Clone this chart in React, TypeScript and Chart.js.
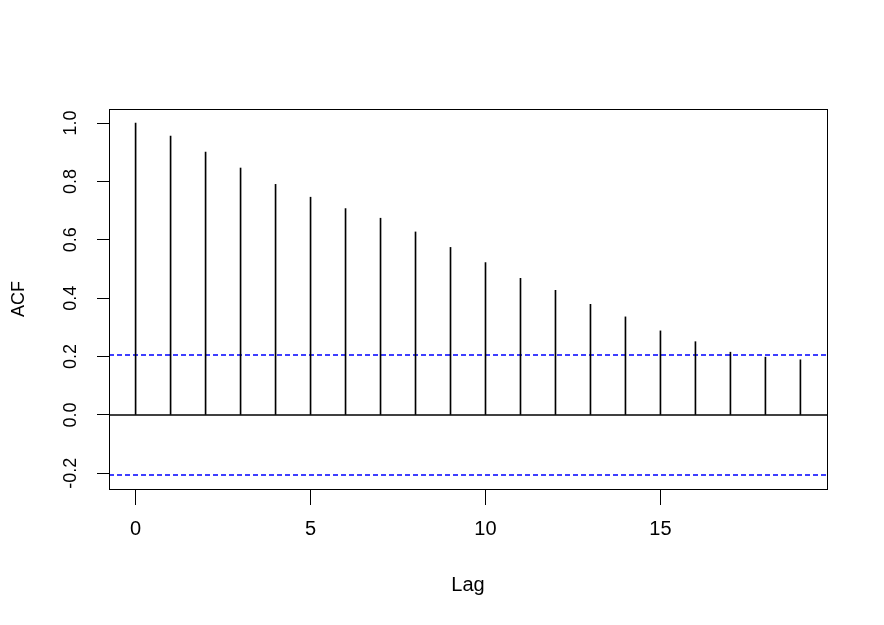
import React, { useEffect, useRef } from "react";
import { Chart, registerables } from "chart.js";

Chart.register(...registerables);

const lags = [0, 1, 2, 3, 4, 5, 6, 7, 8, 9, 10, 11, 12, 13, 14, 15, 16, 17, 18, 19];
const acfValues = [1.0, 0.955, 0.901, 0.846, 0.79, 0.746, 0.707, 0.674, 0.627, 0.574, 0.522, 0.468, 0.427, 0.379, 0.336, 0.288, 0.251, 0.215, 0.198, 0.189];
const confLimit = 0.2055;
const xRange = [-0.76, 19.76];
const yRange = [-0.2537, 1.0482];
const xTickStep = 5;
const yTickStep = 0.2;
const xTitle = "Lag";
const yTitle = "ACF";

const boxPlugin = {
  id: "rbox",
  afterDatasetsDraw(chart: any) {
    const { ctx, chartArea } = chart;
    ctx.save();
    ctx.strokeStyle = "#000";
    ctx.lineWidth = 1;
    ctx.strokeRect(
      Math.round(chartArea.left) + 0.5,
      Math.round(chartArea.top) + 0.5,
      Math.round(chartArea.right - chartArea.left),
      Math.round(chartArea.bottom - chartArea.top)
    );
    ctx.restore();
  },
};

export default function App() {
  const ref = useRef<HTMLCanvasElement | null>(null);

  useEffect(() => {
    document.body.style.margin = "0";
    const canvas = ref.current;
    if (!canvas) return;

    const bars = lags.map((l, i) => ({ x: l, y: acfValues[i] }));
    const upper = xRange.map((x) => ({ x, y: confLimit }));
    const lower = xRange.map((x) => ({ x, y: -confLimit }));
    const zero = xRange.map((x) => ({ x, y: 0 }));

    const fontFamily = "'Liberation Sans', Arial, sans-serif";

    const chart = new Chart(canvas, {
      type: "bar",
      data: {
        datasets: [
          {
            type: "bar",
            data: bars,
            backgroundColor: "#000",
            borderWidth: 0,
            barThickness: 1,
          } as any,
          {
            type: "line",
            data: zero,
            borderColor: "#000",
            borderWidth: 1.5,
            pointRadius: 0,
          } as any,
          {
            type: "line",
            data: upper,
            borderColor: "#0000ff",
            borderWidth: 1.5,
            borderDash: [5, 3],
            pointRadius: 0,
          } as any,
          {
            type: "line",
            data: lower,
            borderColor: "#0000ff",
            borderWidth: 1.5,
            borderDash: [5, 3],
            pointRadius: 0,
          } as any,
        ],
      },
      options: {
        animation: false,
        responsive: false,
        maintainAspectRatio: false,
        devicePixelRatio: 1,
        layout: { padding: { top: 109, right: 57, left: 0, bottom: 0 } },
        plugins: {
          legend: { display: false },
          tooltip: { enabled: false },
        },
        scales: {
          x: {
            type: "linear",
            min: xRange[0],
            max: xRange[1],
            offset: false,
            border: { display: false },
            grid: {
              display: true,
              offset: false,
              drawOnChartArea: false,
              drawTicks: true,
              tickLength: 16,
              color: "#000",
              lineWidth: 1,
            },
            ticks: {
              stepSize: xTickStep,
              includeBounds: false,
              color: "#000",
              padding: 12,
              maxRotation: 0,
              font: { family: fontFamily, size: 20 },
            },
            title: {
              display: true,
              text: xTitle,
              color: "#000",
              font: { family: fontFamily, size: 20 },
              padding: { top: 0, bottom: 28 },
            },
            afterFit(scale: any) {
              scale.height = 136;
            },
          },
          y: {
            type: "linear",
            min: yRange[0],
            max: yRange[1],
            border: { display: false },
            grid: {
              display: true,
              drawOnChartArea: false,
              drawTicks: true,
              tickLength: 12,
              color: "#000",
              lineWidth: 1,
            },
            ticks: {
              stepSize: yTickStep,
              includeBounds: false,
              color: "#000",
              padding: 10,
              minRotation: 90,
              maxRotation: 90,
              crossAlign: "center",
              font: { family: fontFamily, size: 18 },
              callback: (v: any) => Number(v).toFixed(1),
            },
            title: {
              display: true,
              text: yTitle,
              color: "#000",
              font: { family: fontFamily, size: 18 },
              padding: { top: 8, bottom: 0 },
            },
            afterFit(scale: any) {
              scale.width = 109;
            },
          },
        },
      } as any,
      plugins: [boxPlugin],
    });

    return () => chart.destroy();
  }, []);

  return (
    <div style={{ position: "absolute", left: 0, top: 0, width: 884, height: 625, background: "#fff" }}>
      <canvas ref={ref} width={884} height={625} style={{ display: "block", width: 884, height: 625 }} />
    </div>
  );
}
